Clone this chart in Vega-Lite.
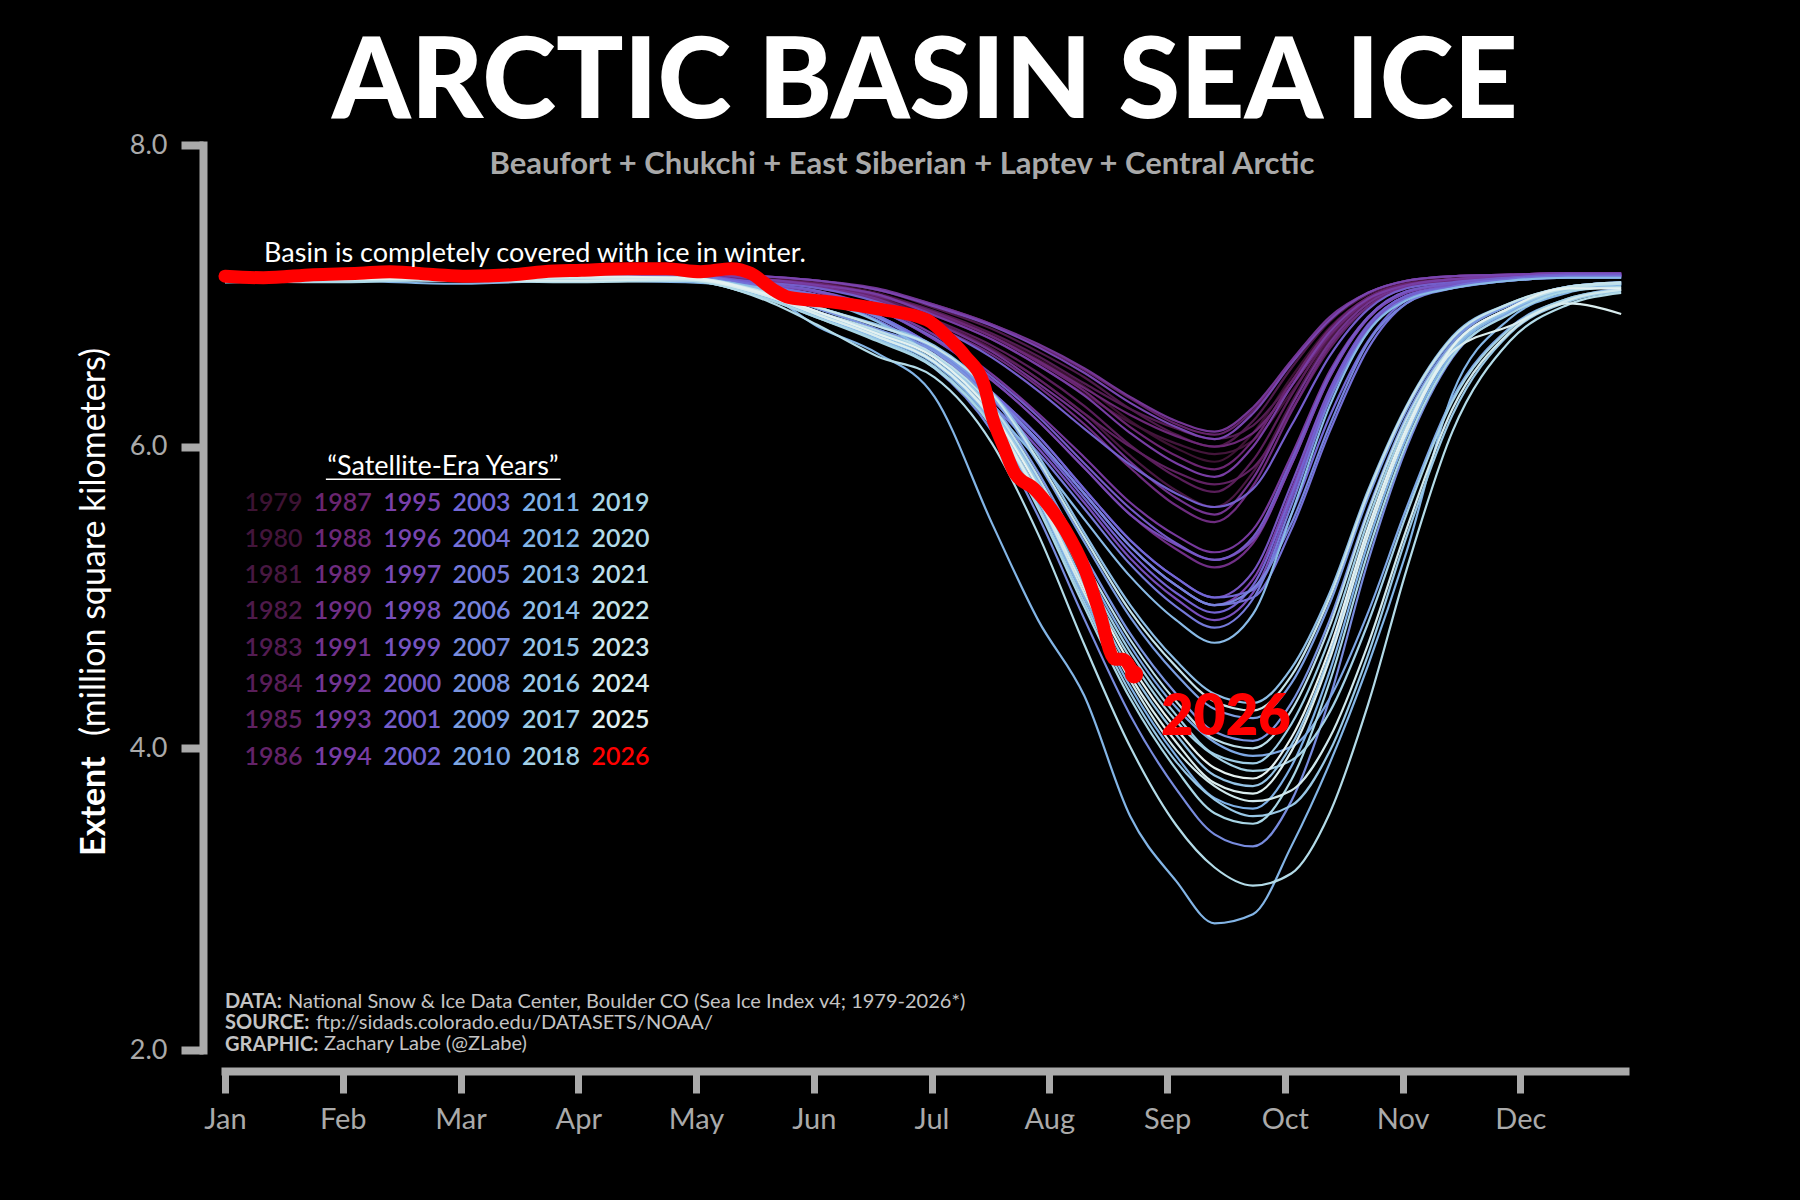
{
  "$schema": "https://vega.github.io/schema/vega-lite/v6.json",
  "width": 1400,
  "height": 905,
  "autosize": "none",
  "padding": {"left": 225, "top": 145, "right": 175, "bottom": 150},
  "background": "black",
  "title": {
    "text": "ARCTIC BASIN SEA ICE",
    "font": "Lato",
    "fontSize": 112,
    "fontWeight": 900,
    "color": "white",
    "anchor": "middle",
    "frame": "group",
    "offset": -11
  },
  "config": {"view": {"stroke": null}, "font": "Lato"},
  "datasets": {
    "yrs": [
      {"yr": 1979, "d": [0,30,60,90,120,140,155,170,185,200,212,224,236,248,258,268,278,288,298,308,320,335,350,364], "v": [7.12,7.14,7.13,7.15,7.14,7.12,7.08,7.02,6.89,6.74,6.58,6.40,6.17,5.99,5.90,6.09,6.46,6.79,6.99,7.08,7.12,7.13,7.14,7.14]},
      {"yr": 1980, "d": [0,30,60,90,120,140,155,170,185,200,212,224,236,248,258,268,278,288,298,308,320,335,350,364], "v": [7.11,7.13,7.14,7.12,7.13,7.09,7.06,6.99,6.87,6.71,6.54,6.35,6.16,6.02,5.95,6.04,6.36,6.72,6.95,7.06,7.09,7.12,7.13,7.13]},
      {"yr": 1981, "d": [0,30,60,90,120,140,155,170,185,200,212,224,236,248,258,268,278,288,298,308,320,335,350,364], "v": [7.13,7.12,7.14,7.13,7.15,7.11,7.06,6.99,6.83,6.65,6.45,6.22,5.94,5.71,5.60,5.83,6.29,6.71,6.96,7.06,7.11,7.12,7.14,7.14]},
      {"yr": 1982, "d": [0,30,60,90,120,140,155,170,185,200,212,224,236,248,258,268,278,288,298,308,320,335,350,364], "v": [7.14,7.15,7.13,7.16,7.15,7.13,7.09,7.04,6.92,6.78,6.63,6.46,6.25,6.08,6.00,6.17,6.52,6.83,7.01,7.09,7.13,7.14,7.15,7.15]},
      {"yr": 1983, "d": [0,30,60,90,120,140,155,170,185,200,212,224,236,248,258,268,278,288,298,308,320,335,350,364], "v": [7.13,7.14,7.15,7.13,7.14,7.11,7.07,7.01,6.90,6.75,6.60,6.42,6.25,6.12,6.05,6.14,6.43,6.76,6.98,7.07,7.11,7.13,7.14,7.14]},
      {"yr": 1984, "d": [0,30,60,90,120,140,155,170,185,200,212,224,236,248,258,268,278,288,298,308,320,335,350,364], "v": [7.12,7.13,7.11,7.14,7.13,7.10,7.06,6.99,6.84,6.67,6.49,6.27,6.01,5.80,5.70,5.91,6.34,6.73,6.96,7.06,7.10,7.12,7.13,7.13]},
      {"yr": 1985, "d": [0,30,60,90,120,140,155,170,185,200,212,224,236,248,258,268,278,288,298,308,320,335,350,364], "v": [7.14,7.13,7.15,7.14,7.12,7.10,7.06,6.97,6.83,6.64,6.45,6.22,6.00,5.83,5.75,5.86,6.24,6.65,6.93,7.06,7.10,7.13,7.14,7.14]},
      {"yr": 1986, "d": [0,30,60,90,120,140,155,170,185,200,212,224,236,248,258,268,278,288,298,308,320,335,350,364], "v": [7.14,7.15,7.16,7.14,7.15,7.13,7.10,7.04,6.94,6.81,6.67,6.51,6.32,6.15,6.08,6.24,6.56,6.85,7.02,7.10,7.13,7.14,7.15,7.15]},
      {"yr": 1987, "d": [0,30,60,90,120,140,155,170,185,200,212,224,236,248,258,268,278,288,298,308,320,335,350,364], "v": [7.13,7.14,7.12,7.15,7.14,7.11,7.08,7.01,6.88,6.73,6.56,6.37,6.13,5.94,5.85,6.04,6.43,6.78,6.99,7.08,7.11,7.13,7.14,7.14]},
      {"yr": 1988, "d": [0,30,60,90,120,140,155,170,185,200,212,224,236,248,258,268,278,288,298,308,320,335,350,364], "v": [7.14,7.13,7.15,7.14,7.14,7.11,7.07,7.00,6.89,6.73,6.57,6.39,6.21,6.07,6.00,6.09,6.40,6.74,6.97,7.07,7.11,7.13,7.14,7.14]},
      {"yr": 1989, "d": [0,30,60,90,120,140,155,170,185,200,212,224,236,248,258,268,278,288,298,308,320,335,350,364], "v": [7.12,7.13,7.14,7.12,7.13,7.10,7.05,6.97,6.80,6.61,6.40,6.15,5.86,5.61,5.50,5.74,6.23,6.67,6.93,7.05,7.10,7.11,7.13,7.13]},
      {"yr": 1990, "d": [0,30,60,90,120,140,155,170,185,200,212,224,236,248,258,268,278,288,298,308,320,335,350,364], "v": [7.13,7.14,7.13,7.15,7.14,7.08,7.02,6.91,6.71,6.44,6.17,5.86,5.55,5.32,5.20,5.36,5.88,6.46,6.85,7.02,7.08,7.12,7.14,7.14]},
      {"yr": 1991, "d": [0,30,60,90,120,140,155,170,185,200,212,224,236,248,258,268,278,288,298,308,320,335,350,364], "v": [7.14,7.12,7.14,7.13,7.15,7.11,7.06,6.98,6.82,6.63,6.42,6.19,5.90,5.66,5.55,5.79,6.27,6.69,6.95,7.06,7.11,7.12,7.14,7.14]},
      {"yr": 1992, "d": [0,30,60,90,120,140,155,170,185,200,212,224,236,248,258,268,278,288,298,308,320,335,350,364], "v": [7.15,7.14,7.16,7.15,7.15,7.13,7.10,7.05,6.94,6.81,6.68,6.52,6.33,6.17,6.10,6.26,6.57,6.86,7.02,7.10,7.13,7.14,7.15,7.15]},
      {"yr": 1993, "d": [0,30,60,90,120,140,155,170,185,200,212,224,236,248,258,268,278,288,298,308,320,335,350,364], "v": [7.13,7.14,7.12,7.14,7.14,7.08,7.03,6.92,6.74,6.48,6.22,5.93,5.63,5.41,5.30,5.45,5.94,6.50,6.86,7.03,7.08,7.12,7.14,7.14]},
      {"yr": 1994, "d": [0,30,60,90,120,140,155,170,185,200,212,224,236,248,258,268,278,288,298,308,320,335,350,364], "v": [7.14,7.15,7.13,7.14,7.15,7.11,7.07,7.01,6.87,6.71,6.54,6.34,6.09,5.89,5.80,6.00,6.40,6.76,6.98,7.07,7.11,7.13,7.14,7.14]},
      {"yr": 1995, "d": [0,30,60,90,120,140,155,170,185,200,212,224,236,248,258,268,278,288,298,308,320,335,350,364], "v": [7.12,7.13,7.14,7.13,7.12,7.06,7.00,6.87,6.65,6.35,6.04,5.69,5.34,5.08,4.95,5.12,5.71,6.37,6.80,7.00,7.06,7.11,7.13,7.13]},
      {"yr": 1996, "d": [0,30,60,90,120,140,155,170,185,200,212,224,236,248,258,268,278,288,298,308,320,335,350,364], "v": [7.14,7.15,7.15,7.16,7.15,7.13,7.10,7.04,6.93,6.80,6.66,6.49,6.29,6.13,6.05,6.22,6.55,6.84,7.02,7.10,7.13,7.14,7.15,7.15]},
      {"yr": 1997, "d": [0,30,60,90,120,140,155,170,185,200,212,224,236,248,258,268,278,288,298,308,320,335,350,364], "v": [7.13,7.12,7.14,7.13,7.14,7.08,7.02,6.91,6.71,6.44,6.17,5.86,5.55,5.35,5.25,5.38,5.88,6.46,6.85,7.02,7.08,7.12,7.14,7.14]},
      {"yr": 1998, "d": [0,30,60,90,120,140,155,170,185,200,212,224,236,248,258,268,278,288,298,308,320,335,350,364], "v": [7.12,7.13,7.12,7.14,7.13,7.06,6.99,6.86,6.63,6.31,5.99,5.63,5.26,4.99,4.85,5.03,5.65,6.33,6.79,6.99,7.06,7.11,7.13,7.13]},
      {"yr": 1999, "d": [0,30,60,90,120,140,155,170,185,200,212,224,236,248,258,268,278,288,298,308,320,335,350,364], "v": [7.13,7.14,7.13,7.12,7.14,7.07,7.00,6.87,6.66,6.36,6.07,5.72,5.38,5.13,5.00,5.17,5.75,6.38,6.81,7.00,7.07,7.11,7.13,7.13]},
      {"yr": 2000, "d": [0,30,60,90,120,140,155,170,185,200,212,224,236,248,258,268,278,288,298,308,320,335,350,364], "v": [7.14,7.13,7.15,7.14,7.13,7.08,7.03,6.91,6.72,6.46,6.20,5.89,5.59,5.36,5.25,5.40,5.91,6.48,6.86,7.03,7.08,7.12,7.14,7.14]},
      {"yr": 2001, "d": [0,30,60,90,120,140,155,170,185,200,212,224,236,248,258,268,278,288,298,308,320,335,350,364], "v": [7.13,7.14,7.14,7.15,7.13,7.09,7.05,6.96,6.80,6.59,6.37,6.12,5.88,5.69,5.60,5.72,6.14,6.60,6.91,7.05,7.09,7.12,7.14,7.14]},
      {"yr": 2002, "d": [0,30,60,90,120,140,155,170,185,200,212,224,236,248,258,268,278,288,298,308,320,335,350,364], "v": [7.12,7.11,7.13,7.12,7.13,7.06,7.00,6.86,6.64,6.33,6.02,5.66,5.30,5.03,4.90,5.08,5.68,6.35,6.80,7.00,7.06,7.11,7.13,7.13]},
      {"yr": 2003, "d": [0,30,60,90,120,140,155,170,185,200,212,224,236,248,258,268,278,288,298,308,320,335,350,364], "v": [7.13,7.12,7.14,7.13,7.13,7.07,7.00,6.87,6.66,6.36,6.07,5.72,5.38,5.13,5.00,5.05,5.55,6.20,6.70,6.97,7.06,7.11,7.13,7.13]},
      {"yr": 2004, "d": [0,30,60,90,120,140,155,170,185,200,212,224,236,248,258,268,278,288,298,308,320,335,350,364], "v": [7.13,7.14,7.12,7.13,7.14,7.06,7.00,6.87,6.65,6.35,6.04,5.69,5.34,5.08,4.95,5.00,5.45,6.10,6.65,6.95,7.06,7.11,7.13,7.13]},
      {"yr": 2005, "d": [0,30,60,90,120,140,155,170,185,200,212,224,236,248,258,268,278,288,298,308,320,335,350,364], "v": [7.12,7.11,7.13,7.12,7.12,7.05,6.98,6.84,6.61,6.28,5.96,5.59,5.22,4.94,4.80,4.99,5.61,6.31,6.77,6.98,7.05,7.10,7.12,7.12]},
      {"yr": 2006, "d": [0,30,60,90,120,140,155,170,185,200,212,224,236,248,258,268,278,288,298,308,320,335,350,364], "v": [7.12,7.13,7.12,7.11,7.13,7.05,6.99,6.86,6.64,6.34,6.04,5.69,5.34,5.08,4.95,5.06,5.49,6.14,6.69,6.95,7.05,7.10,7.12,7.12]},
      {"yr": 2007, "d": [0,30,60,90,120,140,155,170,185,200,212,224,236,248,258,268,278,288,298,308,320,335,350,364], "v": [7.11,7.12,7.10,7.12,7.12,7.01,6.86,6.71,6.52,6.10,5.54,4.86,4.22,3.73,3.43,3.35,3.65,4.33,5.24,5.99,6.59,6.89,7.04,7.08]},
      {"yr": 2008, "d": [0,30,60,90,120,140,155,170,185,200,212,224,236,248,258,268,278,288,298,308,320,335,350,364], "v": [7.12,7.11,7.13,7.12,7.11,7.03,6.91,6.78,6.63,6.29,5.83,5.28,4.76,4.36,4.11,4.05,4.30,4.85,5.58,6.20,6.69,6.94,7.06,7.09]},
      {"yr": 2009, "d": [0,30,60,90,120,140,155,170,185,200,212,224,236,248,258,268,278,288,298,308,320,335,350,364], "v": [7.11,7.12,7.12,7.13,7.12,7.03,6.92,6.80,6.65,6.33,5.89,5.37,4.87,4.49,4.26,4.20,4.43,4.96,5.66,6.24,6.71,6.94,7.06,7.09]},
      {"yr": 2010, "d": [0,30,60,90,120,140,155,170,185,200,212,224,236,248,258,268,278,288,298,308,320,335,350,364], "v": [7.10,7.11,7.12,7.11,7.10,7.02,6.89,6.76,6.60,6.26,5.78,5.21,4.68,4.27,4.04,3.95,4.01,4.33,4.90,5.59,6.32,6.79,6.98,7.05]},
      {"yr": 2011, "d": [0,30,60,90,120,140,155,170,185,200,212,224,236,248,258,268,278,288,298,308,320,335,350,364], "v": [7.11,7.10,7.12,7.11,7.11,7.00,6.86,6.72,6.55,6.16,5.64,5.00,4.41,3.95,3.67,3.60,3.88,4.51,5.36,6.06,6.62,6.90,7.04,7.07]},
      {"yr": 2012, "d": [0,30,60,90,120,140,155,170,185,200,212,224,236,248,258,268,278,288,298,308,320,335,350,364], "v": [7.09,7.10,7.08,7.10,7.09,7.02,6.79,6.62,6.33,5.49,4.85,4.35,3.55,3.12,2.84,2.90,3.35,3.90,4.55,5.30,6.35,6.85,7.02,7.07]},
      {"yr": 2013, "d": [0,30,60,90,120,140,155,170,185,200,212,224,236,248,258,268,278,288,298,308,320,335,350,364], "v": [7.12,7.11,7.12,7.13,7.12,7.05,6.97,6.83,6.59,6.25,5.91,5.52,5.14,4.85,4.70,4.89,5.55,6.27,6.76,6.97,7.05,7.10,7.12,7.12]},
      {"yr": 2014, "d": [0,30,60,90,120,140,155,170,185,200,212,224,236,248,258,268,278,288,298,308,320,335,350,364], "v": [7.12,7.12,7.11,7.13,7.12,7.04,6.92,6.81,6.67,6.36,5.94,5.43,4.95,4.58,4.36,4.30,4.53,5.03,5.71,6.27,6.73,6.95,7.06,7.09]},
      {"yr": 2015, "d": [0,30,60,90,120,140,155,170,185,200,212,224,236,248,258,268,278,288,298,308,320,335,350,364], "v": [7.10,7.11,7.12,7.10,7.11,7.01,6.87,6.74,6.57,6.20,5.70,5.09,4.52,4.09,3.82,3.75,4.02,4.62,5.43,6.10,6.64,6.91,7.04,7.08]},
      {"yr": 2016, "d": [0,30,60,90,120,140,155,170,185,200,212,224,236,248,258,268,278,288,298,308,320,335,350,364], "v": [7.09,7.10,7.11,7.10,7.10,6.99,6.85,6.71,6.53,6.14,5.61,4.97,4.37,3.91,3.66,3.55,3.62,3.98,4.62,5.40,6.21,6.75,6.96,7.03]},
      {"yr": 2017, "d": [0,30,60,90,120,140,155,170,185,200,212,224,236,248,258,268,278,288,298,308,320,335,350,364], "v": [7.11,7.10,7.12,7.11,7.11,7.01,6.89,6.76,6.60,6.24,5.76,5.18,4.64,4.22,3.96,3.90,4.16,4.73,5.51,6.15,6.66,6.92,7.05,7.08]},
      {"yr": 2018, "d": [0,30,60,90,120,140,155,170,185,200,212,224,236,248,258,268,278,288,298,308,320,335,350,364], "v": [7.11,7.12,7.10,7.11,7.12,7.01,6.88,6.75,6.59,6.23,5.74,5.15,4.60,4.18,3.95,3.85,3.92,4.24,4.83,5.55,6.30,6.78,6.98,7.04]},
      {"yr": 2019, "d": [0,30,60,90,120,140,155,170,185,200,212,224,236,248,258,268,278,288,298,308,320,335,350,364], "v": [7.10,7.09,7.11,7.10,7.10,6.99,6.85,6.70,6.52,6.13,5.59,4.94,4.33,3.86,3.57,3.50,3.79,4.44,5.30,6.02,6.60,6.88,7.03,7.06]},
      {"yr": 2020, "d": [0,30,60,90,120,140,155,170,185,200,212,224,236,248,258,268,278,288,298,308,320,335,350,364], "v": [7.09,7.10,7.10,7.09,7.10,6.98,6.80,6.60,6.46,6.02,5.42,4.69,4.01,3.49,3.21,3.09,3.17,3.57,4.29,5.18,6.10,6.70,6.94,7.02]},
      {"yr": 2021, "d": [0,30,60,90,120,140,155,170,185,200,212,224,236,248,258,268,278,288,298,308,320,335,350,364], "v": [7.11,7.12,7.11,7.10,7.12,7.02,6.89,6.77,6.61,6.27,5.80,5.24,4.72,4.31,4.06,4.00,4.25,4.81,5.56,6.18,6.67,6.92,7.05,7.08]},
      {"yr": 2022, "d": [0,30,60,90,120,140,155,170,185,200,212,224,236,248,258,268,278,288,298,308,320,335,350,364], "v": [7.12,7.11,7.13,7.12,7.12,7.03,6.92,6.80,6.66,6.35,5.91,5.40,4.91,4.54,4.31,4.25,4.48,5.00,5.69,6.26,6.72,6.95,7.06,7.09]},
      {"yr": 2023, "d": [0,30,60,90,120,140,155,170,185,200,212,224,236,248,258,268,278,288,298,308,320,335,350,364], "v": [7.10,7.11,7.11,7.12,7.11,7.01,6.87,6.73,6.56,6.18,5.66,5.03,4.45,3.99,3.75,3.65,3.72,4.07,4.69,5.45,6.25,6.76,6.97,7.04]},
      {"yr": 2024, "d": [0,30,60,90,120,140,155,170,185,200,212,224,236,248,258,268,278,288,298,308,320,335,350,364], "v": [7.10,7.12,7.11,7.10,7.11,7.01,6.87,6.73,6.56,6.19,5.68,5.06,4.48,4.04,3.77,3.70,3.98,4.59,5.41,6.09,6.63,6.80,6.95,6.88]},
      {"yr": 2025, "d": [0,30,60,90,120,140,155,170,185,200,212,224,236,248,258,268,278,288,298,308,320,335,350,364], "v": [7.12,7.11,7.12,7.13,7.12,7.02,6.89,6.75,6.59,6.22,5.73,5.13,4.56,4.13,3.87,3.80,4.07,4.66,5.46,6.12,6.66,6.92,7.05,7.05]}
    ],
    "y26": [
      {"d": 0, "v": 7.13}, {"d": 10, "v": 7.12}, {"d": 23, "v": 7.14}, {"d": 35, "v": 7.15},
      {"d": 43, "v": 7.16}, {"d": 55, "v": 7.14}, {"d": 63, "v": 7.13}, {"d": 75, "v": 7.14},
      {"d": 83, "v": 7.16}, {"d": 93, "v": 7.17}, {"d": 105, "v": 7.18}, {"d": 115, "v": 7.18},
      {"d": 124, "v": 7.16}, {"d": 132, "v": 7.18}, {"d": 137, "v": 7.15}, {"d": 143, "v": 7.04},
      {"d": 147, "v": 6.99}, {"d": 158, "v": 6.96}, {"d": 171, "v": 6.91}, {"d": 183, "v": 6.84},
      {"d": 189, "v": 6.71}, {"d": 193, "v": 6.60}, {"d": 198, "v": 6.40}, {"d": 200, "v": 6.20},
      {"d": 203, "v": 6.00}, {"d": 206, "v": 5.82}, {"d": 211, "v": 5.72}, {"d": 215, "v": 5.60},
      {"d": 219, "v": 5.45}, {"d": 224, "v": 5.20}, {"d": 228, "v": 4.90}, {"d": 232, "v": 4.59},
      {"d": 234, "v": 4.59}, {"d": 237, "v": 4.49}
    ]
  },
  "layer": [
    {
      "data": {"name": "yrs"},
      "transform": [{"flatten": ["d", "v"]}],
      "mark": {"type": "line", "strokeWidth": 2.2, "interpolate": "monotone"},
      "encoding": {
        "x": {
          "field": "d",
          "type": "quantitative",
          "scale": {"domain": [0, 365], "nice": false, "zero": false},
          "axis": {
            "values": [0, 30.7, 61.4, 92.1, 122.8, 153.5, 184.2, 214.9, 245.6, 276.3, 307, 337.7],
            "labelExpr": "['Jan','Feb','Mar','Apr','May','Jun','Jul','Aug','Sep','Oct','Nov','Dec'][round(datum.value / 30.7)]",
            "offset": 21,
            "domainWidth": 8,
            "domainColor": "#aaaaaa",
            "domainCap": "square",
            "tickColor": "#aaaaaa",
            "tickWidth": 7,
            "tickSize": 22,
            "labelColor": "#aaaaaa",
            "labelFont": "Lato",
            "labelFontSize": 29,
            "labelPadding": 12,
            "labelFlush": false,
            "labelOverlap": false,
            "grid": false,
            "title": null
          }
        },
        "y": {
          "field": "v",
          "type": "quantitative",
          "scale": {"domain": [2, 8], "nice": false, "zero": false},
          "axis": {
            "values": [2, 4, 6, 8],
            "format": ".1f",
            "offset": 22,
            "domainWidth": 8,
            "domainColor": "#aaaaaa",
            "domainCap": "square",
            "tickColor": "#aaaaaa",
            "tickWidth": 8,
            "tickSize": 22,
            "labelColor": "#aaaaaa",
            "labelFont": "Lato",
            "labelFontSize": 27,
            "labelPadding": 14,
            "labelFlush": false,
            "grid": false,
            "title": null
          }
        },
        "color": {
          "field": "yr",
          "type": "nominal",
          "scale": {
            "domain": [1979,1980,1981,1982,1983,1984,1985,1986,1987,1988,1989,1990,1991,1992,1993,1994,1995,1996,1997,1998,1999,2000,2001,2002,2003,2004,2005,2006,2007,2008,2009,2010,2011,2012,2013,2014,2015,2016,2017,2018,2019,2020,2021,2022,2023,2024,2025,2026],
            "range": ["#3d1333","#43153b","#481842","#4e1a4a","#531c52","#591e59","#5f2161","#642369","#6a2570","#6c2877","#6e2c7f","#702f86","#72338e","#743695","#76399c","#783da4","#7a40ab","#7945b0","#784ab6","#774fbb","#7654c1","#7559c6","#745ecb","#7363d1","#7268d6","#7471d8","#757ada","#7783dc","#788cde","#7a95e0","#7b9ee2","#7da7e4","#7eb0e6","#83b5e6","#89bae6","#8ebee6","#94c3e6","#99c8e6","#9ecde6","#a4d1e6","#a9d6e6","#b3dbe8","#bddfea","#c6e4eb","#d0e8ed","#daedef","#e4f1f1","#ff0000"]
          },
          "legend": {
            "orient": "none",
            "direction": "vertical",
            "legendX": 20,
            "legendY": 345,
            "columns": 6,
            "title": null,
            "symbolLimit": 0,
            "labelFont": "Lato",
            "labelFontSize": 25,
            "labelFontWeight": 600,
            "labelOffset": -25.6,
            "labelLimit": 0,
            "symbolSize": 0,
            "symbolStrokeWidth": 0,
            "symbolOpacity": 0,
            "columnPadding": 10.4,
            "rowPadding": 10.3,
            "encode": {"labels": {"update": {"fill": {"scale": "color", "field": "value"}}}}
          }
        }
      }
    },
    {
      "data": {"name": "y26"},
      "mark": {"type": "line", "strokeWidth": 13, "strokeCap": "round", "strokeJoin": "round", "color": "#ff0000", "interpolate": "monotone"},
      "encoding": {
        "x": {"field": "d", "type": "quantitative"},
        "y": {"field": "v", "type": "quantitative"}
      }
    },
    {
      "data": {"name": "y26"},
      "transform": [{"filter": "datum.d == 237"}],
      "mark": {"type": "point", "filled": true, "size": 330, "color": "#ff0000", "opacity": 1},
      "encoding": {
        "x": {"field": "d", "type": "quantitative"},
        "y": {"field": "v", "type": "quantitative"}
      }
    },
    {
      "data": {"values": [{}]},
      "mark": {"type": "text", "text": "Extent", "angle": 270, "align": "left", "baseline": "middle", "font": "Lato", "fontSize": 34, "fontWeight": "bold", "color": "white"},
      "encoding": {"x": {"datum": -33.9}, "y": {"datum": 3.287}}
    },
    {
      "data": {"values": [{}]},
      "mark": {"type": "text", "text": "(million square kilometers)", "angle": 270, "align": "left", "baseline": "middle", "font": "Lato", "fontSize": 34, "color": "white"},
      "encoding": {"x": {"datum": -33.9}, "y": {"datum": 4.082}}
    },
    {
      "data": {"values": [{}]},
      "mark": {"type": "text", "text": "Basin is completely covered with ice in winter.", "align": "left", "baseline": "alphabetic", "font": "Lato", "fontSize": 27, "color": "white"},
      "encoding": {"x": {"datum": 10.2}, "y": {"datum": 7.224}}
    },
    {
      "data": {"values": [{}]},
      "mark": {"type": "text", "text": "Beaufort + Chukchi + East Siberian + Laptev + Central Arctic", "align": "center", "baseline": "middle", "font": "Lato", "fontSize": 31, "fontWeight": "bold", "color": "#a9a9a9"},
      "encoding": {"x": {"datum": 176.5}, "y": {"datum": 7.87}}
    },
    {
      "data": {"values": [{}]},
      "mark": {"type": "text", "text": "2026", "align": "left", "baseline": "alphabetic", "font": "Lato", "fontSize": 56, "fontWeight": 800, "color": "#ff0000"},
      "encoding": {"x": {"datum": 244}, "y": {"datum": 4.09}}
    },
    {
      "data": {"values": [{}]},
      "mark": {"type": "text", "text": "“Satellite-Era Years”", "align": "center", "baseline": "middle", "font": "Lato", "fontSize": 27, "color": "white"},
      "encoding": {"x": {"datum": 56.8}, "y": {"datum": 5.865}}
    },
    {
      "data": {"values": [{}]},
      "mark": {"type": "rule", "color": "white", "strokeWidth": 1.5},
      "encoding": {"x": {"datum": 26.3}, "x2": {"datum": 87.5}, "y": {"datum": 5.784}}
    },
    {
      "data": {"values": [{}]},
      "mark": {"type": "text", "text": ["DATA:", "SOURCE:", "GRAPHIC:"], "lineHeight": 21.3, "align": "left", "baseline": "alphabetic", "font": "Lato", "fontSize": 20, "fontWeight": "bold", "color": "#c4c4c4"},
      "encoding": {"x": {"datum": 0}, "y": {"datum": 2.279}}
    },
    {
      "data": {"values": [{}]},
      "mark": {"type": "text", "text": "National Snow & Ice Data Center, Boulder CO (Sea Ice Index v4; 1979-2026*)", "dx": 63, "align": "left", "baseline": "alphabetic", "font": "Lato", "fontSize": 20, "color": "#c4c4c4"},
      "encoding": {"x": {"datum": 0}, "y": {"datum": 2.279}}
    },
    {
      "data": {"values": [{}]},
      "mark": {"type": "text", "text": "ftp://sidads.colorado.edu/DATASETS/NOAA/", "dx": 91, "align": "left", "baseline": "alphabetic", "font": "Lato", "fontSize": 20, "color": "#c4c4c4"},
      "encoding": {"x": {"datum": 0}, "y": {"datum": 2.138}}
    },
    {
      "data": {"values": [{}]},
      "mark": {"type": "text", "text": "Zachary Labe (@ZLabe)", "dx": 99, "align": "left", "baseline": "alphabetic", "font": "Lato", "fontSize": 20, "color": "#c4c4c4"},
      "encoding": {"x": {"datum": 0}, "y": {"datum": 1.997}}
    }
  ]
}
